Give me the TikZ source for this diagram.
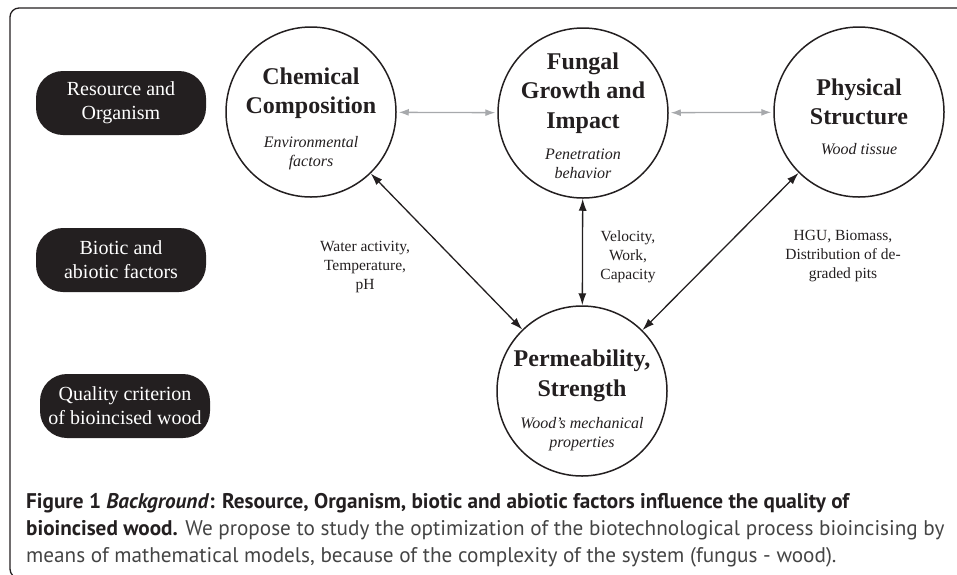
\documentclass[tikz,border=0pt]{standalone}
\usepackage{fontspec}
\setmainfont{Liberation Serif}
\newfontfamily\capfont{PT Sans}
\usetikzlibrary{arrows.meta}
\definecolor{inkblack}{HTML}{231F20}
\definecolor{arrowgray}{HTML}{A7A9AC}
\definecolor{capgray}{HTML}{444444}

\begin{document}
\begin{tikzpicture}[x=1pt,y=-1pt,
  factor/.style={circle,draw=inkblack,line width=1.5pt,minimum size=170pt,inner sep=0pt},
  title/.style={align=center,font=\fontsize{24}{29.5}\selectfont\bfseries,text=inkblack},
  subtitle/.style={align=center,font=\fontsize{16}{19.5}\selectfont\itshape,text=inkblack},
  level/.style={rounded corners=27pt,fill=inkblack,text=white,align=center,
    minimum width=170pt,minimum height=64pt,font=\fontsize{20}{24}\selectfont},
  note/.style={align=center,font=\fontsize{15.5}{19}\selectfont,text=inkblack},
  link/.style={{Latex[length=12pt,width=8pt]}-{Latex[length=12pt,width=8pt]},line width=1.3pt,draw=inkblack},
  sidelink/.style={{Latex[length=10pt,width=7pt]}-{Latex[length=10pt,width=7pt]},line width=1.3pt,draw=arrowgray,
    shorten >=2pt,shorten <=2pt}]
  \useasboundingbox (0,0) rectangle (957,574);

  % Frame
  \draw[rounded corners=9pt,line width=1.3pt,draw=inkblack] (10,8) rectangle (990,578);

  % Levels
  \node[level] (resource) at (121,103) {Resource and\\Organism};
  \node[level] (biotic) at (121,260) {Biotic and\\abiotic factors};
  \node[level] (quality) at (125,406) {Quality criterion\\of bioincised wood};

  % Factors
  \node[factor] (chem) at (311,112) {};
  \node[factor] (fung) at (583,113) {};
  \node[factor] (phys) at (859,112) {};
  \node[factor] (perm) at (582,391) {};

  \node[title] (chemtitle) at (311,93) {Chemical\\Composition};
  \node[subtitle] (chemsub) at (311,153) {Environmental\\factors};
  \node[title] (fungtitle) at (583,93) {Fungal\\Growth and\\Impact};
  \node[subtitle] (fungsub) at (583,164) {Penetration\\behavior};
  \node[title] (phystitle) at (859,102) {Physical\\Structure};
  \node[subtitle] (physsub) at (859,149) {Wood tissue};
  \node[title] (permtitle) at (582,376) {Permeability,\\Strength};
  \node[subtitle] (permsub) at (582,434) {Wood's mechanical\\properties};

  % Links
  \draw[sidelink] (chem) -- (fung);
  \draw[sidelink] (fung) -- (phys);
  \draw[link] (chem) -- (perm);
  \draw[link] (fung) -- (perm);
  \draw[link] (phys) -- (perm);

  % Link notes
  \node[note] (chemnote) at (365,267) {Water activity,\\Temperature,\\pH};
  \node[note] (fungnote) at (628,257) {Velocity,\\Work,\\Capacity};
  \node[note] (physnote) at (843,256) {HGU, Biomass,\\Distribution of de-\\graded pits};

  % Caption
  \node[anchor=north west,align=left,inner sep=0pt,font=\capfont\fontsize{21.2}{27}\selectfont,text=inkblack] (caption) at (26,493)
    {\textbf{Figure 1 \textit{Background}: Resource, Organism, biotic and abiotic factors influence the quality of}\\
     \textbf{bioincised wood.} \textcolor{capgray}{We propose to study the optimization of the biotechnological process bioincising by}\\
     \textcolor{capgray}{means of mathematical models, because of the complexity of the system (fungus - wood).}};
\end{tikzpicture}
\end{document}
